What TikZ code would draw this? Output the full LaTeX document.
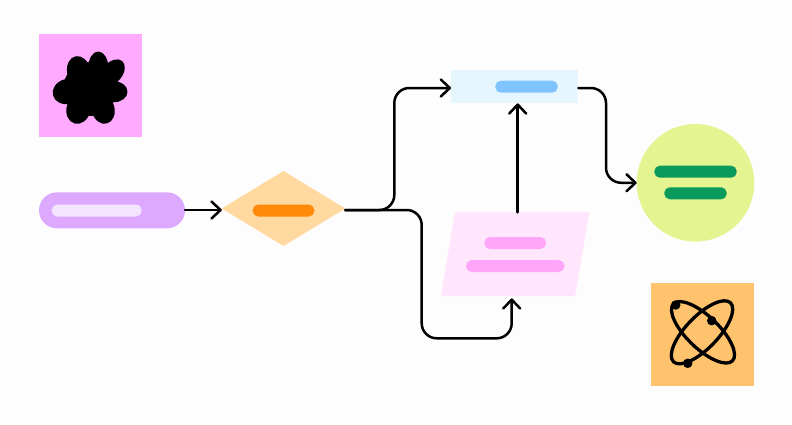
\documentclass[tikz,border=0pt]{standalone}
\usetikzlibrary{arrows.meta,shapes.geometric}
\definecolor{pinkbox}{HTML}{FFAAFF}
\definecolor{orangebox}{HTML}{FFC36E}
\definecolor{pillc}{HTML}{DDA9FF}
\definecolor{pillin}{HTML}{F3E5FF}
\definecolor{diac}{HTML}{FFD9A0}
\definecolor{diain}{HTML}{FF8A0A}
\definecolor{bluebox}{HTML}{E5F6FF}
\definecolor{bluein}{HTML}{7FC4FF}
\definecolor{parac}{HTML}{FFE6FC}
\definecolor{parain}{HTML}{FFA6FA}
\definecolor{circc}{HTML}{E3F490}
\definecolor{circin}{HTML}{0A9A5C}
\definecolor{paper}{HTML}{FEFDFE}
\tikzset{
  box/.style={rectangle,inner sep=0pt,outer sep=0pt},
  barshape/.style={rectangle,rounded corners=5.5pt,inner sep=0pt,outer sep=0pt,minimum height=12pt},
  conn/.style={draw=black,line width=2.5pt,line cap=round,line join=round,rounded corners=15pt,
    -{Straight Barb[length=9pt,width=17pt,line width=2.5pt,round]}},
  orbit/.style={ellipse,draw=black,line width=3.3pt,inner sep=0pt,outer sep=0pt,minimum width=82pt,minimum height=32pt},
  atomdot/.style={circle,fill=black,inner sep=0pt,minimum size=9.5pt},
  petal/.style={ellipse,fill=black,inner sep=0pt,outer sep=0pt}
}
\begin{document}
\begin{tikzpicture}[x=1pt,y=-1pt]
\useasboundingbox[fill=paper] (0,0) rectangle (792,424);
% squares
\node[box,fill=pinkbox,minimum width=103pt,minimum height=102.4pt] (pinksq) at (90.2,85.5) {};
\node[box,fill=orangebox,minimum width=103pt,minimum height=102.7pt] (orangesq) at (702.5,334.6) {};
% flower
\node[petal,minimum width=32pt,minimum height=20pt,rotate=90] (petalA) at (98.3,67.5) {};
\node[petal,minimum width=30pt,minimum height=23pt,rotate=100] (petalB) at (78.5,71) {};
\node[petal,minimum width=30pt,minimum height=20pt,rotate=50] (petalC) at (112.5,72.5) {};
\node[petal,minimum width=27pt,minimum height=21pt] (petalD) at (114,91.7) {};
\node[petal,minimum width=30pt,minimum height=23pt,rotate=-75] (petalE) at (103,109) {};
\node[petal,minimum width=30pt,minimum height=24pt,rotate=-105] (petalF) at (78.5,109) {};
\node[petal,minimum width=30pt,minimum height=25pt,rotate=15] (petalG) at (67.5,91.5) {};
\node[circle,fill=black,inner sep=0pt,minimum size=54pt] (petalcore) at (90,89) {};
% atom
\node[orbit,rotate=-44] (orbitA) at (703,332.3) {};
\node[orbit,rotate=46] (orbitB) at (702,332.3) {};
\node[atomdot] (dotA) at (675.7,305) {};
\node[atomdot] (dotB) at (711.7,320.7) {};
\node[atomdot] (dotC) at (687.7,363.3) {};
% pill
\node[box,fill=pillc,rounded corners=18pt,minimum width=146pt,minimum height=36pt] (pill) at (112,210.3) {};
\node[barshape,fill=pillin,minimum width=90pt] (pillbar) at (96.7,210.5) {};
% diamond
\node[diamond,fill=diac,inner sep=0pt,outer sep=0pt,minimum width=123.5pt,minimum height=75pt] (dec) at (283.5,208.5) {};
\node[barshape,fill=diain,minimum width=61.6pt] (decbar) at (283.5,210.5) {};
% blue box
\node[box,fill=bluebox,minimum width=127.3pt,minimum height=33.3pt] (blue) at (514.7,86.7) {};
\node[barshape,fill=bluein,minimum width=62.4pt] (bluebar) at (526.5,86.7) {};
% parallelogram
\fill[parac] (455,212.3) -- (589.3,212.3) -- (575,296) -- (441,296) -- cycle;
\coordinate (paratop) at (517.7,212.3);
\coordinate (parabot) at (511.7,298.3);
\node[barshape,fill=parain,minimum width=61.7pt] (parabarA) at (515.2,243) {};
\node[barshape,fill=parain,minimum width=98.3pt] (parabarB) at (515.2,266) {};
% circle
\node[circle,fill=circc,inner sep=0pt,outer sep=0pt,minimum size=117.6pt] (end) at (695.5,182.8) {};
\node[barshape,fill=circin,minimum width=82.4pt] (endbarA) at (695.5,171.7) {};
\node[barshape,fill=circin,minimum width=62.4pt] (endbarB) at (695.5,193.3) {};
% connectors
\draw[conn] (pill.east |- 0,210) -- (dec.west |- 0,210);
\draw[conn] (dec.east |- 0,210) -- (394.3,210) -- (394.3,88) -- (blue.west |- 0,88);
\draw[conn] (dec.east |- 0,210) -- (421.7,210) -- (421.7,338.3) -- (511.7,338.3) -- (parabot);
\draw[conn] (paratop) -- (paratop |- blue.south);
\draw[conn] (blue.east |- 0,88) -- (606,88) -- (606,182.7) -- (end.west);
\end{tikzpicture}
\end{document}
